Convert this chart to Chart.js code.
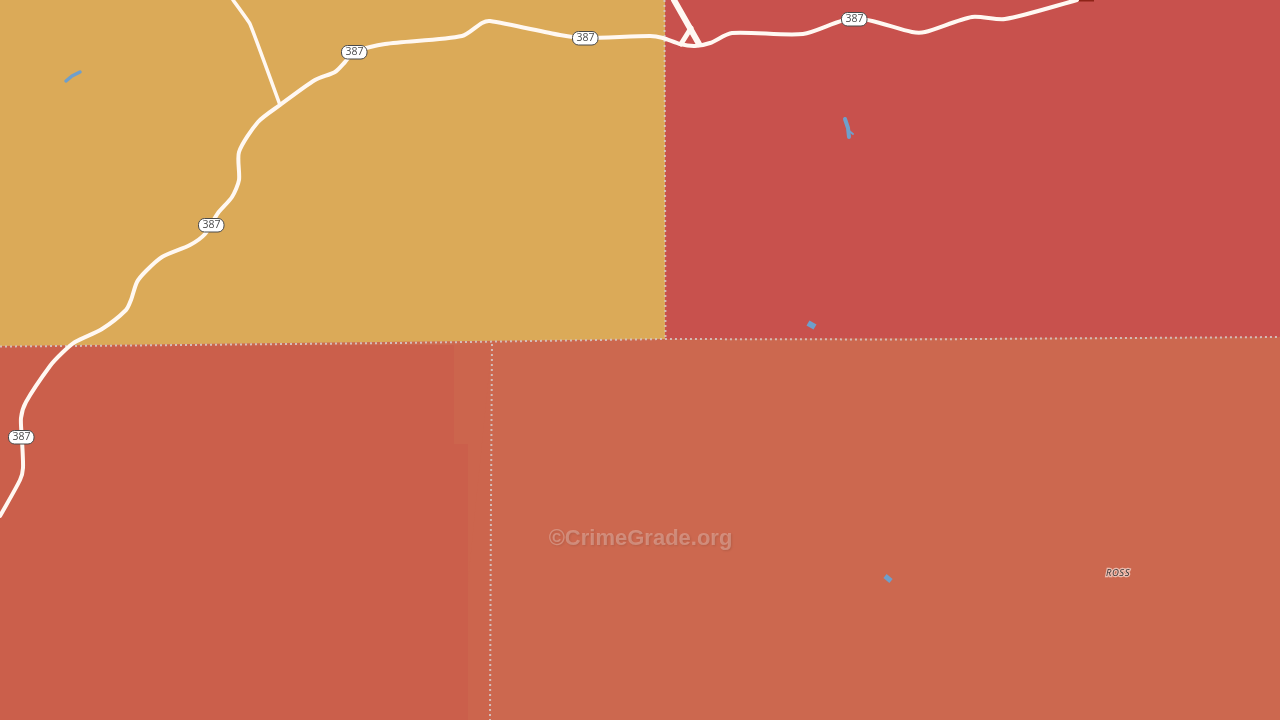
<!DOCTYPE html>
<html>
<head>
<meta charset="utf-8">
<title>CrimeGrade map</title>
<script src="https://cdn.jsdelivr.net/npm/chart.js@4/dist/chart.umd.min.js"></script>
<style>
    html, body { margin: 0; padding: 0; background: #cc684f; overflow: hidden; }
    canvas { display: block; }
</style>
</head>
<body>
<canvas id="mapChart" width="1280" height="720"></canvas>
<script>
// Map outlines, as [x, y] values on a 1280 x 720 grid
const yellowEdge = [[0, 346], [665, 339]];
const redEdge = [[665, 339], [1280, 337]];
const orangeEdge = [[0, 346], [665, 339], [1280, 337]];
const leftAreaEdge = [[0, 346], [454, 345], [454, 444], [468, 444], [468, 720]];
const stripEdge = [[454, 345], [492, 344], [490, 444], [490, 720]];

const borderEastWest = [[0, 346.5], [130, 345.5], [400, 343], [665, 339], [900, 339.5], [1280, 337]];
const borderYellowRed = [[664.5, 0], [665.5, 339]];
const borderSouth = [[492, 344], [491, 500], [490, 720]];

const highway387 = [
    [0, 516], [20, 480], [23, 468], [22, 440], [21, 418], [26, 402], [50, 366], [62, 353],
    [75, 342], [102, 329], [126, 310], [131, 300], [137, 282], [146, 271], [162, 257],
    [190, 245], [205, 234], [218, 213], [232, 197], [239, 180], [239, 152], [258, 122],
    [280, 105], [315, 80], [335, 72], [345, 62], [354, 52], [385, 44], [462, 36], [482, 23],
    [490, 21], [560, 35], [585, 38], [650, 36], [663, 38], [680, 44], [695, 46], [710, 43],
    [732, 33], [803, 34], [854, 18], [912, 32], [925, 32], [972, 17], [1005, 19], [1077, 0]
];
const sideRoad = [[233, 0], [250, 24], [280, 105]];
const northRoad = [[674, 0], [699, 44]];
const northLink = [[691, 28], [681, 44]];
const darkRoofline = [[1078, 0], [1094, 0]];

const pondWest = [[66, 81], [72, 76], [80, 72]];
const pondNorth = [[845, 119], [848, 128], [849, 137]];
const pondNorthBranch = [[848, 130], [853, 134]];
const pondMiddle = [[808, 323], [815, 327]];
const pondSouth = [[885, 576], [891, 581]];

const shieldText = ["387", "387", "387", "387", "387"];
const shieldPoints = [[354, 52], [585, 38], [854, 19], [211, 225], [21, 437]];
const placeNames = ["ROSS"];
const placePoints = [[1118, 573]];
const watermarkText = "©CrimeGrade.org";
const watermarkPoint = [640.5, 539];

const toPoints = (pairs) => pairs.map(([x, y]) => ({ x, y }));

function area(pairs, color, target) {
    return {
        data: toPoints(pairs),
        borderWidth: 0,
        pointRadius: 0,
        backgroundColor: color,
        fill: { target: { value: target } },
    };
}

function path(pairs, color, width, extra) {
    return Object.assign({
        data: toPoints(pairs),
        borderColor: color,
        borderWidth: width,
        pointRadius: 0,
        fill: false,
        borderCapStyle: "round",
        borderJoinStyle: "round",
    }, extra);
}

const labelsPlugin = {
    id: "mapLabels",
    afterDatasetsDraw(chart) {
        const ctx = chart.ctx;
        const xScale = chart.scales.x;
        const yScale = chart.scales.y;
        ctx.save();
        ctx.textAlign = "center";
        ctx.textBaseline = "middle";

        // Road shields
        shieldPoints.forEach(([x, y], i) => {
            const px = xScale.getPixelForValue(x);
            const py = yScale.getPixelForValue(y);
            ctx.beginPath();
            ctx.roundRect(px - 12.5, py - 6.5, 25.5, 13.5, 6);
            ctx.fillStyle = "#ffffff";
            ctx.fill();
            ctx.lineWidth = 1;
            ctx.strokeStyle = "#4a4a4a";
            ctx.stroke();
            ctx.fillStyle = "#4c4c4c";
            ctx.font = "10.5px 'Open Sans'";
            ctx.fillText(shieldText[i], px + 0.5, py + 0.5);
        });

        // Place name with its pale halo
        placePoints.forEach(([x, y], i) => {
            const px = xScale.getPixelForValue(x);
            const py = yScale.getPixelForValue(y);
            ctx.font = "italic 9.5px 'Open Sans'";
            ctx.letterSpacing = "0.5px";
            ctx.lineWidth = 2.5;
            ctx.strokeStyle = "rgba(245, 215, 205, 0.75)";
            ctx.strokeText(placeNames[i], px, py);
            ctx.fillStyle = "#333333";
            ctx.fillText(placeNames[i], px, py);
            ctx.letterSpacing = "0px";
        });

        // Watermark
        const wx = xScale.getPixelForValue(watermarkPoint[0]);
        const wy = yScale.getPixelForValue(watermarkPoint[1]);
        ctx.font = "bold 22px 'Liberation Sans'";
        ctx.shadowColor = "rgba(60, 40, 30, 0.5)";
        ctx.shadowBlur = 2;
        ctx.shadowOffsetX = 1;
        ctx.shadowOffsetY = 1;
        ctx.fillStyle = "rgba(255, 255, 255, 0.27)";
        ctx.fillText(watermarkText, wx, wy);
        ctx.restore();
    },
};

const roadColor = "#fff8f2";
const waterColor = "#6f9fcb";
const dots = { borderDash: [2, 3], borderCapStyle: "butt" };
const dotColor = "rgba(214, 204, 204, 0.85)";

// Chart.js paints the first dataset last, so the top layers come first here
const datasets = [
    path(highway387, roadColor, 4, { tension: 0.25 }),
    path(sideRoad, roadColor, 3.5, { tension: 0.1 }),
    path(northRoad, roadColor, 6),
    path(northLink, roadColor, 5),
    path(darkRoofline, "#8e2418", 3, { borderCapStyle: "butt" }),
    path(pondWest, waterColor, 3.5),
    path(pondNorth, waterColor, 4),
    path(pondNorthBranch, waterColor, 2),
    path(pondMiddle, waterColor, 6, { borderCapStyle: "butt" }),
    path(pondSouth, waterColor, 5, { borderCapStyle: "butt" }),
    path(borderEastWest, dotColor, 2, dots),
    path(borderYellowRed, dotColor, 2, dots),
    path(borderSouth, dotColor, 2, dots),
    area(leftAreaEdge, "#cb5f4b", 720),
    area(stripEdge, "#cc654d", 720),
    area(yellowEdge, "#dbaa58", 0),
    area(redEdge, "#c8514d", 0),
    area(orangeEdge, "#cc684f", 720),
];

new Chart(document.getElementById("mapChart"), {
    type: "scatter",
    data: { datasets },
    options: {
        responsive: false,
        animation: false,
        devicePixelRatio: 1,
        showLine: true,
        layout: { padding: 0 },
        plugins: { legend: { display: false }, tooltip: { enabled: false } },
        scales: {
            x: { type: "linear", display: false, min: 0, max: 1280 },
            y: { type: "linear", display: false, min: 0, max: 720, reverse: true },
        },
    },
    plugins: [labelsPlugin],
});
</script>
</body>
</html>
